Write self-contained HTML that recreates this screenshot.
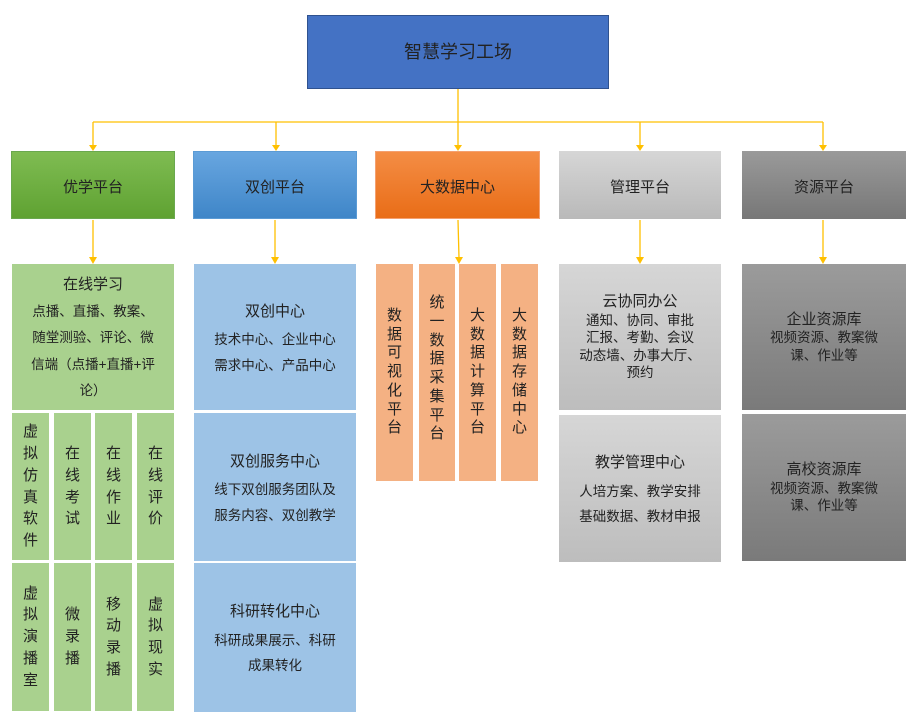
<!DOCTYPE html>
<html><head><meta charset="utf-8"><style>
body{margin:0;width:920px;height:717px;background:#fff;position:relative;overflow:hidden;font-family:"Liberation Sans","Noto Sans CJK SC",sans-serif;color:#222}
.b{position:absolute;display:flex;align-items:center;justify-content:center;text-align:center;box-sizing:border-box;line-height:1.6;white-space:nowrap}
.t{font-size:15px;padding-top:6px}
.s{font-size:13.5px;line-height:1.9}
.v{font-size:15px;line-height:1.45;flex-direction:column}
.g{background:#a9d18e}.bl{background:#9dc3e6}.o{background:#f4b183}.lg{background:linear-gradient(#d6d6d6,#bdbdbd)}.dg{background:linear-gradient(#9b9b9b,#7a7a7a)}
</style></head><body>
<svg width="920" height="717" style="position:absolute;left:0;top:0">
<g stroke="#ffc000" stroke-width="1.3" fill="none">
<line x1="458" y1="89" x2="458" y2="122"/>
<line x1="93" y1="122" x2="823" y2="122"/>
<line x1="93" y1="122" x2="93" y2="146"/><line x1="276" y1="122" x2="276" y2="146"/><line x1="458" y1="122" x2="458" y2="146"/><line x1="640" y1="122" x2="640" y2="146"/><line x1="823" y1="122" x2="823" y2="146"/>
<line x1="93" y1="220" x2="93" y2="258"/><line x1="275" y1="220" x2="275" y2="258"/><line x1="458" y1="220" x2="459" y2="258"/><line x1="640" y1="220" x2="640" y2="258"/><line x1="823" y1="220" x2="823" y2="258"/>
</g>
<g fill="#ffc000">
<path d="M89,145h8l-4,6z"/><path d="M272,145h8l-4,6z"/><path d="M454,145h8l-4,6z"/><path d="M636,145h8l-4,6z"/><path d="M819,145h8l-4,6z"/>
<path d="M89,257h8l-4,7z"/><path d="M271,257h8l-4,7z"/><path d="M455,257h8l-4,7z"/><path d="M636,257h8l-4,7z"/><path d="M819,257h8l-4,7z"/>
</g>
</svg>
<div class="b" style="left:307px;top:15px;width:302px;height:74px;background:#4472c4;border:1px solid #2f528f;font-size:18px">智慧学习工场</div>
<div class="b t" style="left:11px;top:151px;width:164px;height:68px;background:linear-gradient(#7fbc52,#5fa232);border:1px solid #6aa84f">优学平台</div>
<div class="b t" style="left:193px;top:151px;width:164px;height:68px;background:linear-gradient(#68a6e0,#3f86c8);border:1px solid #5b9bd5">双创平台</div>
<div class="b t" style="left:375px;top:151px;width:165px;height:68px;background:linear-gradient(#f48d45,#e96d17);border:1px solid #f4a070">大数据中心</div>
<div class="b t" style="left:559px;top:151px;width:162px;height:68px;background:linear-gradient(#d6d6d6,#b9b9b9)">管理平台</div>
<div class="b t" style="left:742px;top:151px;width:164px;height:68px;background:linear-gradient(#9a9a9a,#777)">资源平台</div>

<div class="b g s" style="left:12px;top:264px;width:162px;height:146px;flex-direction:column;line-height:1.95"><span style="font-size:15px">在线学习</span><span>点播、直播、教案、<br>随堂测验、评论、微<br>信端（点播+直播+评<br>论）</span></div>
<div class="b g v" style="left:12px;top:413px;width:37px;height:147px">虚<br>拟<br>仿<br>真<br>软<br>件</div>
<div class="b g v" style="left:54px;top:413px;width:37px;height:147px">在<br>线<br>考<br>试</div>
<div class="b g v" style="left:95px;top:413px;width:37px;height:147px">在<br>线<br>作<br>业</div>
<div class="b g v" style="left:137px;top:413px;width:37px;height:147px">在<br>线<br>评<br>价</div>
<div class="b g v" style="left:12px;top:563px;width:37px;height:148px">虚<br>拟<br>演<br>播<br>室</div>
<div class="b g v" style="left:54px;top:563px;width:37px;height:148px">微<br>录<br>播</div>
<div class="b g v" style="left:95px;top:563px;width:37px;height:148px">移<br>动<br>录<br>播</div>
<div class="b g v" style="left:137px;top:563px;width:37px;height:148px">虚<br>拟<br>现<br>实</div>

<div class="b bl s" style="left:194px;top:264px;width:162px;height:146px;flex-direction:column"><span style="font-size:15px;line-height:2.1">双创中心</span><span>技术中心、企业中心<br>需求中心、产品中心</span></div>
<div class="b bl s" style="left:194px;top:413px;width:162px;height:148px;flex-direction:column"><span style="font-size:15px;line-height:2.1">双创服务中心</span><span>线下双创服务团队及<br>服务内容、双创教学</span></div>
<div class="b bl s" style="left:194px;top:563px;width:162px;height:149px;flex-direction:column"><span style="font-size:15px;line-height:2.1">科研转化中心</span><span>科研成果展示、科研<br>成果转化</span></div>

<div class="b o v" style="left:376px;top:264px;width:37px;height:217px;line-height:1.25">数<br>据<br>可<br>视<br>化<br>平<br>台</div>
<div class="b o v" style="left:419px;top:264px;width:36px;height:217px;line-height:1.25;justify-content:flex-start;padding-top:30px">统<br>一<br>数<br>据<br>采<br>集<br>平<br>台</div>
<div class="b o v" style="left:459px;top:264px;width:37px;height:217px;line-height:1.25">大<br>数<br>据<br>计<br>算<br>平<br>台</div>
<div class="b o v" style="left:501px;top:264px;width:37px;height:217px;line-height:1.25">大<br>数<br>据<br>存<br>储<br>中<br>心</div>

<div class="b lg" style="left:559px;top:264px;width:162px;height:146px;flex-direction:column;font-size:13.5px;line-height:1.3"><span style="font-size:15px">云协同办公</span><span>通知、协同、审批<br>汇报、考勤、会议<br>动态墙、办事大厅、<br>预约</span></div>
<div class="b lg s" style="left:559px;top:415px;width:162px;height:147px;flex-direction:column"><span style="font-size:15px;line-height:2.1">教学管理中心</span><span>人培方案、教学安排<br>基础数据、教材申报</span></div>
<div class="b dg" style="left:742px;top:264px;width:164px;height:146px;flex-direction:column;font-size:13.5px;line-height:1.3"><span style="font-size:15px">企业资源库</span><span>视频资源、教案微<br>课、作业等</span></div>
<div class="b dg" style="left:742px;top:414px;width:164px;height:147px;flex-direction:column;font-size:13.5px;line-height:1.3"><span style="font-size:15px">高校资源库</span><span>视频资源、教案微<br>课、作业等</span></div>
</body></html>
